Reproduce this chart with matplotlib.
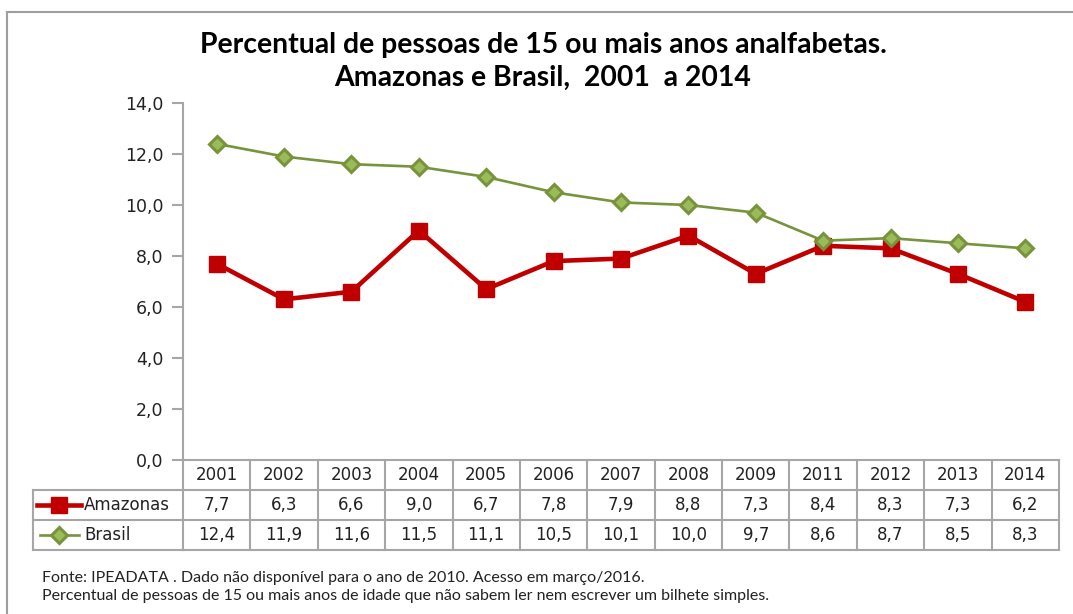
import numpy as np
import matplotlib
matplotlib.use("Agg")
import matplotlib.pyplot as plt
from matplotlib.lines import Line2D
import matplotlib.transforms as mtransforms

# Data
years = ["2001", "2002", "2003", "2004", "2005", "2006", "2007",
         "2008", "2009", "2011", "2012", "2013", "2014"]
amazonas = [7.7, 6.3, 6.6, 9.0, 6.7, 7.8, 7.9, 8.8, 7.3, 8.4, 8.3, 7.3, 6.2]
brasil = [12.4, 11.9, 11.6, 11.5, 11.1, 10.5, 10.1, 10.0, 9.7, 8.6, 8.7, 8.5, 8.3]
series_names = ["Amazonas", "Brasil"]
yticks = np.arange(0, 14.1, 2.0)

title = ("Percentual de pessoas de 15 ou mais anos analfabetas.\n"
         "Amazonas e Brasil,  2001  a 2014")
notes = ["Fonte: IPEADATA . Dado não disponível para o ano de 2010. Acesso em março/2016.",
         "Percentual de pessoas de 15 ou mais anos de idade que não sabem ler nem escrever um bilhete simples."]

red = "#C00000"
green = "#77933C"
green_fill = "#9BBB59"
grid_gray = "#A6A6A6"

W, H = 1073, 614
fig = plt.figure(figsize=(W / 100, H / 100), dpi=100)
fig.patch.set_facecolor("white")


def px(x, y):
    # pixel position (top-left origin) to figure fraction
    return x / W, 1 - y / H


# Outer chart border (top and left visible)
fig.add_artist(Line2D([7 / W, 1.0], [1 - 12 / H] * 2, color="#9E9E9E", lw=1.5,
                      transform=fig.transFigure))
fig.add_artist(Line2D([7 / W] * 2, [1 - 12 / H, 0], color="#9E9E9E", lw=1.5,
                      transform=fig.transFigure))

# Plot area
left, top = px(183, 103)
right, bottom = px(1059, 460)
ax = fig.add_axes([left, bottom, right - left, top - bottom])

x = np.arange(len(years))
ax.plot(x, amazonas, color=red, lw=3.3, marker="s", markersize=11,
        markerfacecolor=red, markeredgecolor=red, zorder=3)
ax.plot(x, brasil, color=green, lw=1.9, marker="D", markersize=8.5,
        markerfacecolor=green_fill, markeredgecolor=green, markeredgewidth=2.2, zorder=4)

ax.set_xlim(-0.5, len(years) - 0.5)
ax.set_ylim(0, 14)
ax.set_yticks(yticks)
ax.set_yticklabels([f"{v:.1f}".replace(".", ",") for v in yticks],
                   fontsize=12.5, color="#222222", family="DejaVu Sans")
ax.set_xticks([])
for s in ["top", "right", "bottom"]:
    ax.spines[s].set_visible(False)
ax.spines["left"].set_color(grid_gray)
ax.spines["left"].set_linewidth(1.5)
ax.tick_params(axis="y", length=8, width=1.5, color=grid_gray, pad=6)

# Data table below the axis
trans = mtransforms.blended_transform_factory(ax.transData, fig.transFigure)
row_edges = [460, 490, 520, 550]
row_y = [(row_edges[i] + row_edges[i + 1]) / 2 for i in range(3)]
lw_t = 1.5

# horizontal lines over the data columns
for yy in row_edges:
    ax.add_artist(Line2D([-0.5, len(years) - 0.5], [1 - yy / H] * 2, color=grid_gray,
                         lw=lw_t, transform=trans, clip_on=False))
# vertical lines
for k in range(len(years) + 1):
    ax.add_artist(Line2D([k - 0.5] * 2, [1 - 460 / H, 1 - 550 / H], color=grid_gray,
                         lw=lw_t, transform=trans, clip_on=False))
# legend column lines
for yy in row_edges[1:]:
    fig.add_artist(Line2D([33 / W, 183 / W], [1 - yy / H] * 2, color=grid_gray, lw=lw_t,
                          transform=fig.transFigure))
fig.add_artist(Line2D([33 / W] * 2, [1 - 490 / H, 1 - 550 / H], color=grid_gray, lw=lw_t,
                      transform=fig.transFigure))

tfont = dict(fontsize=12, color="#222222", family="DejaVu Sans", ha="center", va="center")
for k, yr in enumerate(years):
    ax.text(k, 1 - row_y[0] / H, yr, transform=trans, **tfont)
    ax.text(k, 1 - row_y[1] / H, f"{amazonas[k]:.1f}".replace(".", ","), transform=trans, **tfont)
    ax.text(k, 1 - row_y[2] / H, f"{brasil[k]:.1f}".replace(".", ","), transform=trans, **tfont)

# legend keys in the table
fig.add_artist(Line2D([37 / W, 81 / W], [1 - row_y[1] / H] * 2, color=red, lw=3.3,
                      transform=fig.transFigure))
fig.add_artist(Line2D([59 / W], [1 - row_y[1] / H], color=red, marker="s", markersize=11,
                      transform=fig.transFigure))
fig.add_artist(Line2D([40 / W, 79 / W], [1 - row_y[2] / H] * 2, color=green, lw=1.9,
                      transform=fig.transFigure))
fig.add_artist(Line2D([59 / W], [1 - row_y[2] / H], color=green, marker="D", markersize=8.5,
                      markerfacecolor=green_fill, markeredgecolor=green, markeredgewidth=2.2,
                      transform=fig.transFigure))
for name, yy in zip(series_names, row_y[1:]):
    fig.text(84 / W, 1 - yy / H, name, fontsize=12, color="#222222",
             family="DejaVu Sans", ha="left", va="center")

# Title
fig.text(543 / W, 1 - 61 / H, title, fontsize=20.4, fontweight="bold", family="Lato",
         ha="center", va="center", linespacing=1.32, color="black")

# Footnotes
fig.text(42 / W, 1 - 578 / H, notes[0], fontsize=11.5, family="Lato", ha="left",
         va="center", color="#222222")
fig.text(42 / W, 1 - 596 / H, notes[1], fontsize=11.5, family="Lato", ha="left",
         va="center", color="#222222")

fig.savefig("out.png", dpi=100, facecolor="white")
